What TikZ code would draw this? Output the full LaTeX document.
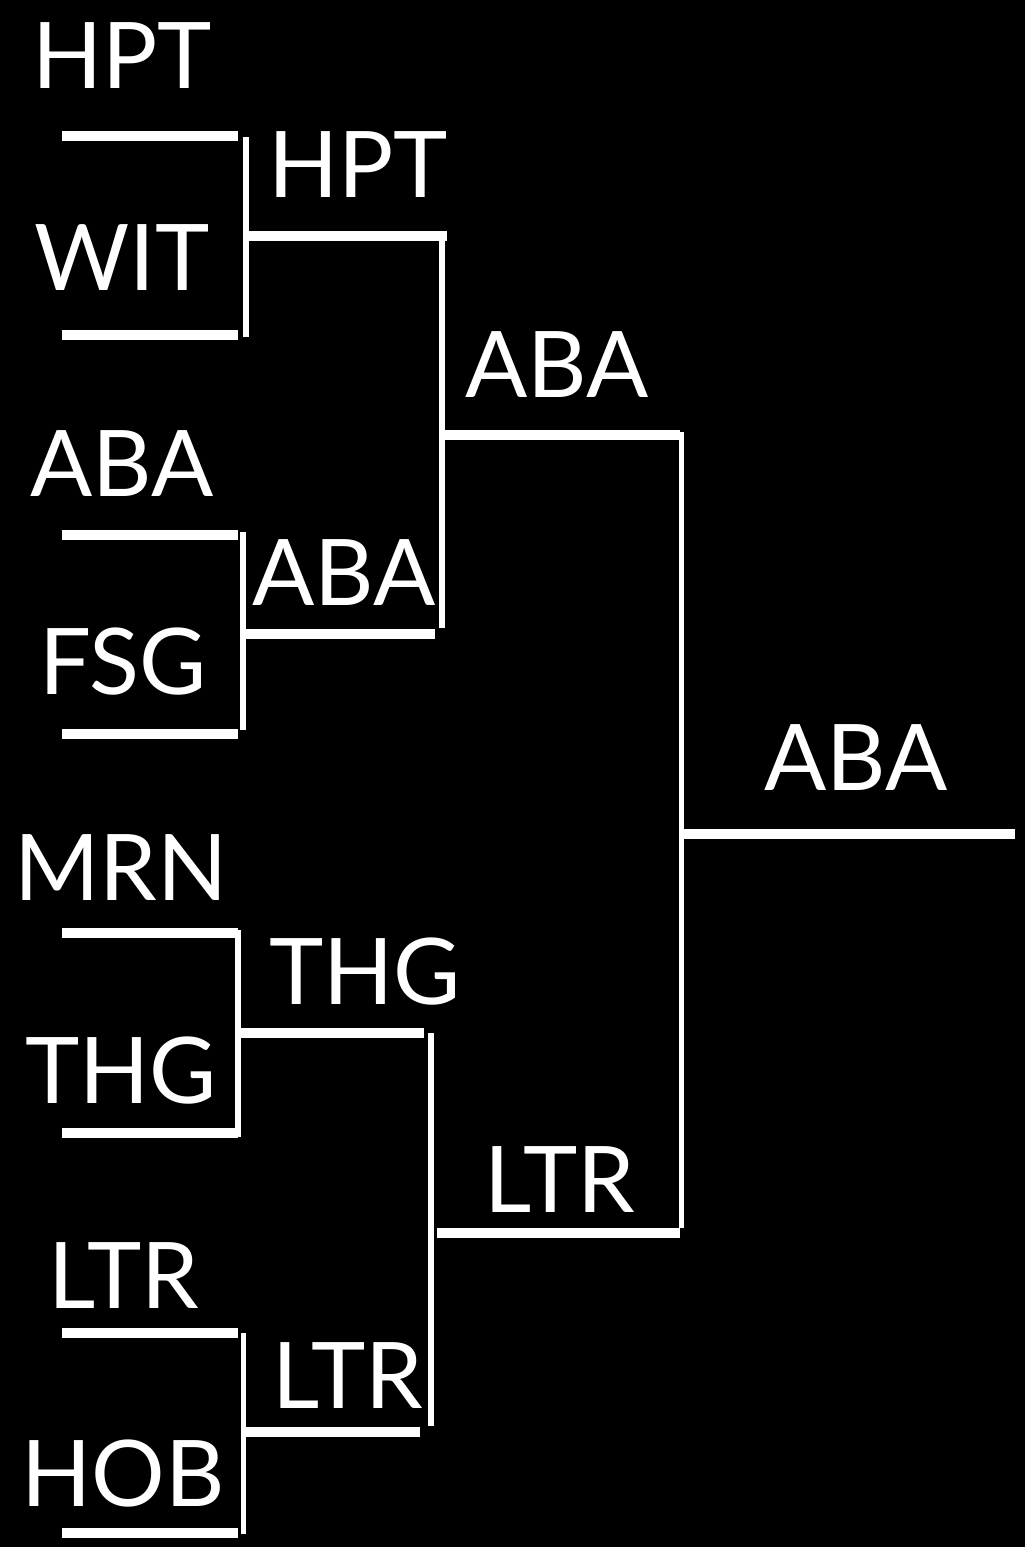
\documentclass[tikz,border=0pt]{standalone}
\usepackage{fontspec}
\setmainfont{Lato}
\begin{document}
\begin{tikzpicture}[x=1pt,y=-1pt,
  hline/.style={white,line width=10pt},
  vline/.style={white,line width=5.5pt},
  team/.style={text=white,anchor=base,inner sep=0pt,font=\fontsize{92}{100}\selectfont}]
\fill[black] (0,0) rectangle (1025,1547);
\useasboundingbox (0,0) rectangle (1025,1547);
% round 1 lines
\foreach \i/\y in {1/136,2/335,3/535,4/734,5/933,6/1133,7/1333,8/1533}{
  \coordinate (a\i) at (62,\y);
  \coordinate (b\i) at (238,\y);
  \draw[hline] (a\i) -- (b\i);
}
% round 1 brackets
\coordinate (v1t) at (246,137); \coordinate (v1b) at (246,337);
\coordinate (v2t) at (243,532); \coordinate (v2b) at (243,730);
\coordinate (v3t) at (238,930); \coordinate (v3b) at (238,1137);
\coordinate (v4t) at (243.5,1333); \coordinate (v4b) at (243.5,1534);
\foreach \i in {1,2,3,4}{\draw[vline] (v\i t) -- (v\i b);}
% round 2 lines
\coordinate (c1) at (249,236); \coordinate (d1) at (447,236);
\coordinate (c2) at (246,634); \coordinate (d2) at (435,634);
\coordinate (c3) at (240,1033); \coordinate (d3) at (424,1033);
\coordinate (c4) at (246,1432); \coordinate (d4) at (420,1432);
\foreach \i in {1,2,3,4}{\draw[hline] (c\i) -- (d\i);}
% round 2 brackets
\coordinate (w1t) at (442,236); \coordinate (w1b) at (442,628);
\coordinate (w2t) at (431,1033); \coordinate (w2b) at (431,1426);
\draw[vline] (w1t) -- (w1b);
\draw[vline] (w2t) -- (w2b);
% round 3 lines
\coordinate (e1) at (444,435); \coordinate (f1) at (680,435);
\coordinate (e2) at (437,1233); \coordinate (f2) at (680,1233);
\draw[hline] (e1) -- (f1);
\draw[hline] (e2) -- (f2);
% final bracket
\coordinate (xt) at (681.5,432); \coordinate (xb) at (681.5,1228);
\draw[vline] (xt) -- (xb);
\coordinate (g) at (684,834); \coordinate (h) at (1015,834);
\draw[hline] (g) -- (h);
% labels round 1
\node[team] (t1) at (122,88) {HPT};
\node[team] (t2) at (122,290) {WIT};
\node[team] (t3) at (122,496) {ABA};
\node[team] (t4) at (123,694) {FSG};
\node[team] (t5) at (121,900) {MRN};
\node[team] (t6) at (121,1103) {THG};
\node[team] (t7) at (124,1308) {LTR};
\node[team] (t8) at (123,1506) {HOB};
% round 2
\node[team] (s1) at (358,197) {HPT};
\node[team] (s2) at (344,605) {ABA};
\node[team] (s3) at (365,1004) {THG};
\node[team] (s4) at (348,1408) {LTR};
% round 3
\node[team] (r1) at (557,397) {ABA};
\node[team] (r2) at (560,1212) {LTR};
% final
\node[team] (w) at (856,790) {ABA};
\end{tikzpicture}
\end{document}
